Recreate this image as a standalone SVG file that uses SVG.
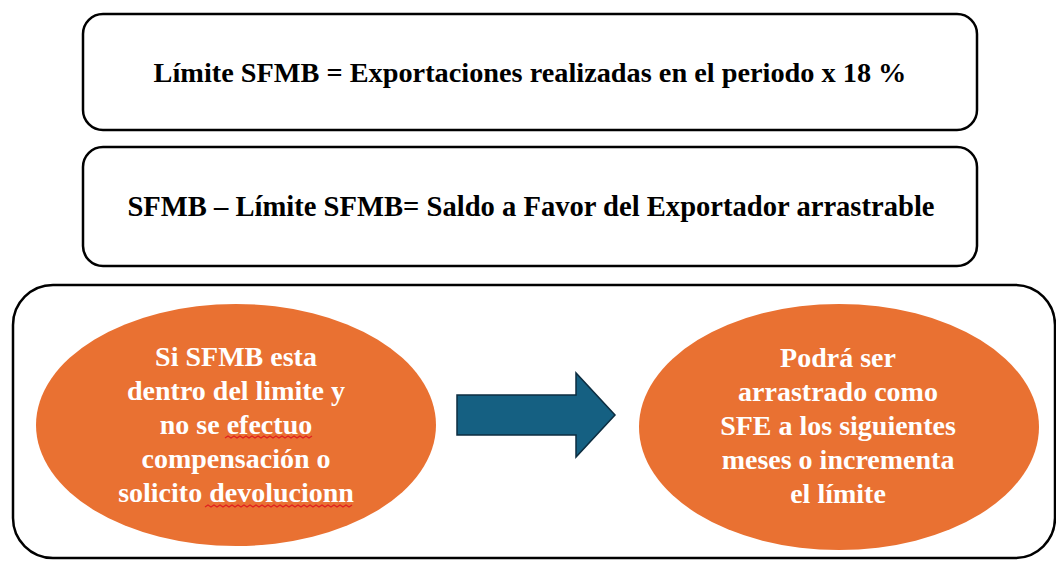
<svg xmlns="http://www.w3.org/2000/svg" width="1056" height="561" viewBox="0 0 1056 561">
  <defs>
    <style>
      .box { fill: #ffffff; stroke: #000000; stroke-width: 2.5; }
      .ell { fill: #E97132; stroke: none; }
      .bt { font-family: "Liberation Serif", "Times New Roman", serif; font-weight: bold; font-size: 28px; fill: #000000; text-anchor: middle; }
      .et { font-family: "Liberation Serif", "Times New Roman", serif; font-weight: bold; font-size: 28px; fill: #ffffff; text-anchor: middle; }
      .sq { fill: none; stroke: #E02020; stroke-width: 1.2; }
    </style>
  </defs>
  <rect width="1056" height="561" fill="#ffffff"/>
  <g id="box-limite">
    <rect class="box" x="83" y="14" width="894" height="116" rx="20" ry="20"/>
    <text class="bt" x="530" y="82" style="font-size:28.3px">Límite SFMB = Exportaciones realizadas en el periodo x 18 %</text>
  </g>
  <g id="box-saldo">
    <rect class="box" x="83" y="147" width="894" height="119" rx="20" ry="20"/>
    <text class="bt" x="531" y="216" style="font-size:28.6px">SFMB – Límite SFMB= Saldo a Favor del Exportador arrastrable</text>
  </g>
  <g id="container">
    <rect class="box" x="13" y="285" width="1042" height="273" rx="40" ry="40"/>
  </g>
  <g id="ellipse-condicion">
    <ellipse class="ell" cx="236" cy="425" rx="200" ry="121"/>
    <text class="et" x="236" y="366">Si SFMB esta</text>
    <text class="et" x="236" y="400">dentro del limite y</text>
    <text class="et" x="236" y="434">no se efectuo</text>
    <text class="et" x="236" y="468">compensación o</text>
    <text class="et" x="236" y="502">solicito devolucionn</text>
    <path class="sq" d="M225 438 l3 -2 l3 2 l3 -2 l3 2 l3 -2 l3 2 l3 -2 l3 2 l3 -2 l3 2 l3 -2 l3 2 l3 -2 l3 2 l3 -2 l3 2 l3 -2 l3 2 l3 -2 l3 2 l3 -2 l3 2 l3 -2 l3 2 l3 -2 l3 2 l3 -2 l3 2 l3 -2"/>
    <path class="sq" d="M205 507 l3 -2 l3 2 l3 -2 l3 2 l3 -2 l3 2 l3 -2 l3 2 l3 -2 l3 2 l3 -2 l3 2 l3 -2 l3 2 l3 -2 l3 2 l3 -2 l3 2 l3 -2 l3 2 l3 -2 l3 2 l3 -2 l3 2 l3 -2 l3 2 l3 -2 l3 2 l3 -2 l3 2 l3 -2 l3 2 l3 -2 l3 2 l3 -2 l3 2 l3 -2 l3 2 l3 -2 l3 2 l3 -2 l3 2 l3 -2 l3 2 l3 -2 l3 2 l3 -2 l3 2 l3 -2"/>
  </g>
  <g id="connectors">
    <polygon points="457,395 576,395 576,373 615,415 576,457 576,435 457,435" fill="#156082" stroke="#0C2D40" stroke-width="1.5" stroke-linejoin="miter"/>
  </g>
  <g id="ellipse-resultado">
    <ellipse class="ell" cx="839" cy="427" rx="200" ry="123"/>
    <text class="et" x="838" y="367">Podrá ser</text>
    <text class="et" x="838" y="401">arrastrado como</text>
    <text class="et" x="838" y="435">SFE a los siguientes</text>
    <text class="et" x="838" y="469">meses o incrementa</text>
    <text class="et" x="838" y="503">el límite</text>
  </g>
</svg>
